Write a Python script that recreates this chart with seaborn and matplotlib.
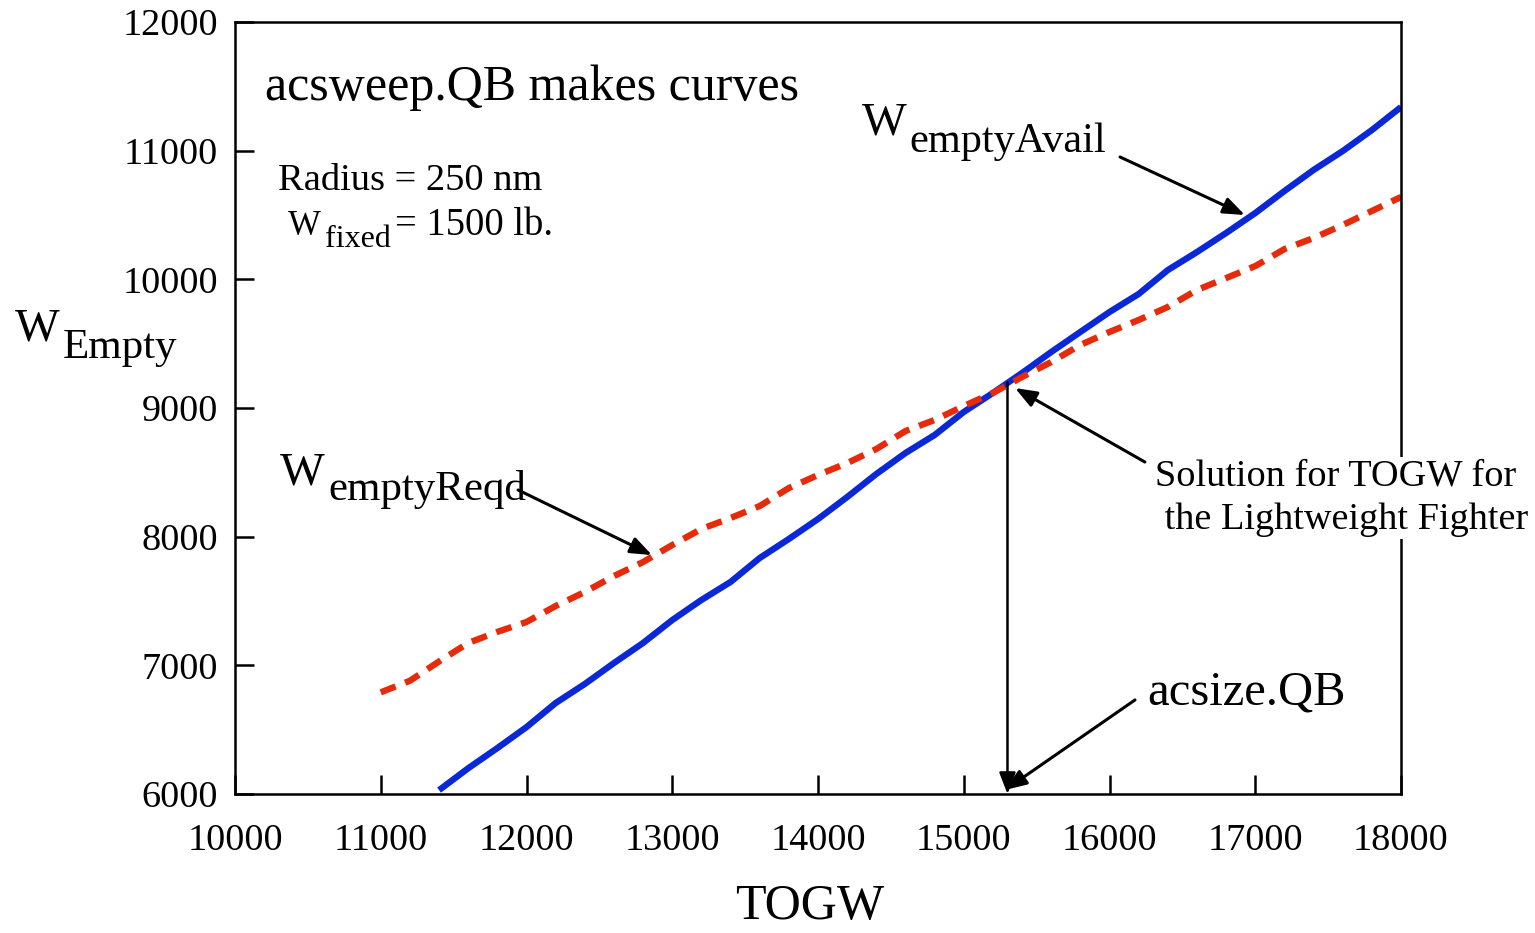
import matplotlib
matplotlib.use("Agg")
import matplotlib.pyplot as plt
import seaborn as sns
import pandas as pd

# ---- data ----
togw_avail = [11400, 11600, 11800, 12000, 12200, 12400, 12600, 12800, 13000, 13200,
              13400, 13600, 13800, 14000, 14200, 14400, 14600, 14800, 15000, 15200,
              15400, 15600, 15800, 16000, 16200, 16400, 16600, 16800, 17000, 17200,
              17400, 17600, 17800, 18000]
wempty_avail = [6030, 6200, 6357, 6520, 6707, 6855, 7018, 7174, 7352, 7508,
                7648, 7834, 7982, 8137, 8308, 8487, 8650, 8790, 8969, 9117,
                9272, 9435, 9591, 9746, 9886, 10072, 10212, 10360, 10515, 10686,
                10850, 10997, 11160, 11339]

togw_reqd = [11000, 11200, 11400, 11600, 11800, 12000, 12200, 12400, 12600, 12800,
             13000, 13200, 13400, 13600, 13800, 14000, 14200, 14400, 14600, 14800,
             15000, 15200, 15400, 15600, 15800, 16000, 16200, 16400, 16600, 16800,
             17000, 17200, 17400, 17600, 17800, 18000]
wempty_reqd = [6790, 6880, 7030, 7174, 7260, 7337, 7461, 7570, 7694, 7803,
               7935, 8060, 8145, 8238, 8378, 8479, 8572, 8681, 8821, 8907,
               9015, 9117, 9241, 9357, 9490, 9591, 9684, 9785, 9917, 10010,
               10103, 10235, 10321, 10422, 10531, 10640]

solution_togw = 15300
solution_wempty = 9200

x_ticks = [10000, 11000, 12000, 13000, 14000, 15000, 16000, 17000, 18000]
y_ticks = [6000, 7000, 8000, 9000, 10000, 11000, 12000]

df_avail = pd.DataFrame({"TOGW": togw_avail, "WEmpty": wempty_avail})
df_reqd = pd.DataFrame({"TOGW": togw_reqd, "WEmpty": wempty_reqd})

sns.set_style("white")
plt.rcParams["font.family"] = ["Liberation Serif", "DejaVu Serif"]
plt.rcParams["text.color"] = "black"
plt.rcParams["axes.labelcolor"] = "black"
plt.rcParams["xtick.color"] = "black"
plt.rcParams["ytick.color"] = "black"

fig = plt.figure(figsize=(15.35, 9.33), dpi=100)
ax = fig.add_axes([235/1535, 1 - 794/933, (1401-235)/1535, (794-22)/933])

blue = "#0b28d8"
red = "#e62a0a"
sns.lineplot(data=df_avail, x="TOGW", y="WEmpty", ax=ax, color=blue, lw=4.6,
             solid_capstyle="butt")
sns.lineplot(data=df_reqd, x="TOGW", y="WEmpty", ax=ax, color=red, lw=4.6,
             dashes=False)
ax.lines[-1].set_dashes((2.5, 1.6))
ax.lines[-1].set_dash_capstyle("butt")

ax.set_xlim(10000, 18000)
ax.set_ylim(6000, 12000)
ax.set_xticks(x_ticks)
ax.set_yticks(y_ticks)
ax.set_xticklabels([str(v) for v in x_ticks])
ax.set_yticklabels([str(v) for v in y_ticks])

for s in ax.spines.values():
    s.set_visible(True)
    s.set_linewidth(1.8)
    s.set_color("black")
ax.tick_params(axis="both", direction="in", length=14, width=1.8, labelsize=27.5,
               colors="black")
ax.tick_params(axis="x", pad=21, top=False, bottom=True)
ax.tick_params(axis="y", pad=12, left=True, right=False)

ax.set_xlabel("TOGW", fontsize=36)
ax.xaxis.set_label_coords(0.493, -0.162)
ax.xaxis.label.set_va("baseline")
ax.set_ylabel("")

# ---- texts ----
ax.text(10206, 11394, "acsweep.QB makes curves", fontsize=36, va="baseline", ha="left")
ax.text(10295, 10694, "Radius = 250 nm", fontsize=27.7, va="baseline", ha="left")
ax.text(10364, 10345, "W", fontsize=25, va="baseline", ha="left")
ax.text(10617, 10251, "fixed", fontsize=23, va="baseline", ha="left")
ax.text(11098, 10345, "= 1500 lb.", fontsize=27.8, va="baseline", ha="left")

ax.text(14302, 11122, "W", fontsize=34, va="baseline", ha="left")
ax.text(14624, 10990, "emptyAvail", fontsize=30.5, va="baseline", ha="left")

ax.text(10309, 8402, "W", fontsize=34, va="baseline", ha="left")
ax.text(10638, 8285, "emptyReqd", fontsize=31, va="baseline", ha="left")

ax.text(8491, 9528, "W", fontsize=34, va="baseline", ha="left", clip_on=False)
ax.text(8820, 9389, "Empty", fontsize=31, va="baseline", ha="left", clip_on=False)

ax.text(16312, 8301, "Solution for TOGW for\n the Lightweight Fighter", fontsize=27.5,
        va="center", ha="left", linespacing=1.32, zorder=5, clip_on=False,
        bbox=dict(facecolor="white", edgecolor="none", pad=2))

ax.text(16258, 6692, "acsize.QB", fontsize=35, va="baseline", ha="left")

# ---- arrows ----
arrow_kw = dict(arrowstyle="-|>,head_length=1.3,head_width=0.5", color="black",
                lw=2.2, shrinkA=0, shrinkB=0)
ax.annotate("", xy=(16929, 10500), xytext=(16072, 10951), arrowprops=arrow_kw)
ax.annotate("", xy=(12861, 7857), xytext=(11942, 8363), arrowprops=arrow_kw)
ax.annotate("", xy=(15352, 9155), xytext=(16243, 8580), arrowprops=arrow_kw)
ax.annotate("", xy=(15283, 6031), xytext=(16175, 6731), arrowprops=arrow_kw)
ax.annotate("", xy=(solution_togw, 6000), xytext=(solution_togw, solution_wempty),
            arrowprops=dict(arrowstyle="-|>,head_length=1.3,head_width=0.5",
                            color="black", lw=1.8, shrinkA=0, shrinkB=0))

fig.savefig("out.png", dpi=100, facecolor="white")
